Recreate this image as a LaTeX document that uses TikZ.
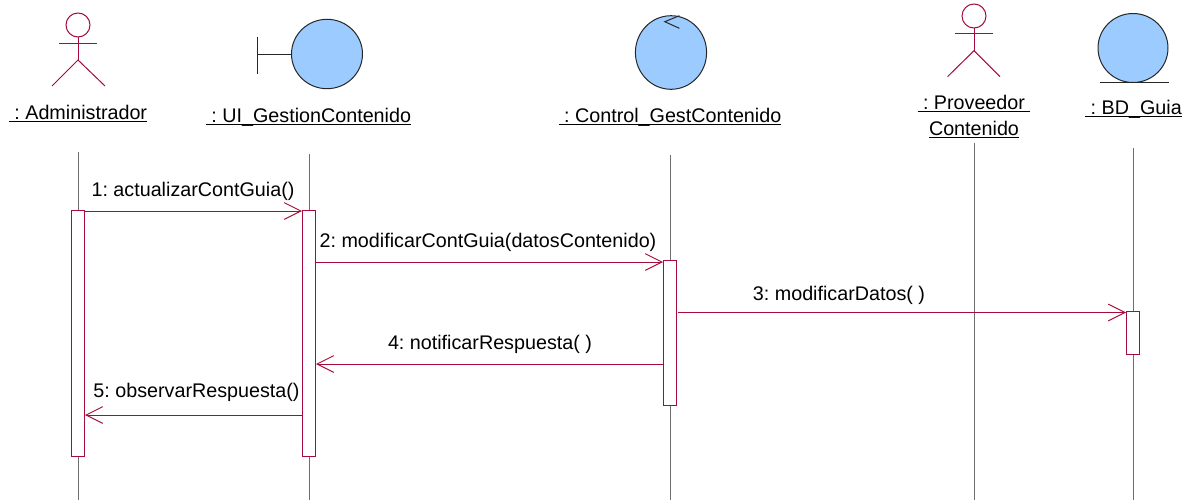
\documentclass[tikz,border=0pt]{standalone}
\usepackage{fontspec}
\setmainfont{Liberation Sans}
\usetikzlibrary{arrows.meta}
\definecolor{umlred}{RGB}{165,12,60}
\definecolor{umlblue}{RGB}{156,204,255}
\definecolor{lifegray}{RGB}{110,110,110}
\newcommand{\objname}[1]{\underline{\smash{#1}}}
\tikzset{every picture/.style={line width=0.75pt}}
\tikzset{
  actor/.style={draw=umlred},
  robust/.style={draw=black!85,fill=umlblue},
  robustline/.style={draw=black!85},
  lifeline/.style={draw=lifegray},
  activation/.style={draw=umlred,fill=white,inner sep=0pt,minimum width=13*0.75pt},
  message/.style={draw=umlred,-{Straight Barb[length=12.5pt,width=12.5pt,line width=0.75pt]}},
  objlabel/.style={anchor=base,inner sep=0pt,font=\fontsize{14.8}{18}\selectfont,align=center},
  msglabel/.style={anchor=base,inner sep=0pt,font=\fontsize{14.8}{18}\selectfont}
}
\begin{document}
\begin{tikzpicture}[x=0.75pt,y=0.75pt,yscale=-1,xscale=1]
	\useasboundingbox (0,0) rectangle (1197,500);

	%Lifelines
	\coordinate (topAdmin) at (78,152);
	\coordinate (endAdmin) at (78,500);
	\coordinate (topUI) at (309,154);
	\coordinate (endUI) at (309,500);
	\coordinate (topControl) at (670.5,155);
	\coordinate (endControl) at (670.5,500);
	\coordinate (topProv) at (974,143);
	\coordinate (endProv) at (974,500);
	\coordinate (topBD) at (1133,148);
	\coordinate (endBD) at (1133,500);
	\draw [lifeline] (topAdmin) -- (endAdmin);
	\draw [lifeline] (topUI) -- (endUI);
	\draw [lifeline] (topControl) -- (endControl);
	\draw [lifeline] (topProv) -- (endProv);
	\draw [lifeline] (topBD) -- (endBD);

	%Activation boxes
	\node [activation,minimum height=246*0.75pt] (actAdmin) at (77.5,333) {};
	\node [activation,minimum height=246*0.75pt] (actUI) at (308.5,333) {};
	\node [activation,minimum height=144.5*0.75pt] (actControl) at (670,333) {};
	\node [activation,minimum height=42.5*0.75pt] (actBD) at (1133,333) {};

	%Actor Administrador
	\draw [actor] (78,25) circle (12);
	\draw [actor] (78,37) -- (78,60);
	\draw [actor] (59,43) -- (97,43);
	\draw [actor] (52,86) -- (78,60) -- (105,86);

	%Boundary UI
	\draw [robustline] (257,37) -- (257,74);
	\draw [robustline] (257,54) -- (292,54);
	\draw [robust] (327,54) ellipse (35.5 and 34.7);

	%Control
	\draw [robust] (671,52.5) ellipse (35.6 and 36.8);
	\draw [robustline] (679.4,15.7) -- (664.8,21.7) -- (679.4,28.3);

	%Actor Proveedor
	\draw [actor] (974,16) ellipse (12 and 12);
	\draw [actor] (974,28) -- (974,50.7);
	\draw [actor] (954.6,33.7) -- (993,33.7);
	\draw [actor] (947.5,76.7) -- (974,50.7) -- (1000,76.7);

	%Entity BD
	\draw [robust] (1133,48) ellipse (35 and 34.5);
	\draw [robustline] (1099.5,82.7) -- (1169,82.7);

	%Messages
	\coordinate (startM1) at (84,211);
	\coordinate (endM1) at (302,211);
	\coordinate (startM2) at (316,262);
	\coordinate (endM2) at (663,262);
	\coordinate (startM3) at (678,312.5);
	\coordinate (endM3) at (1126,312.5);
	\coordinate (startM4) at (663,364);
	\coordinate (endM4) at (316,364);
	\coordinate (startM5) at (302,415);
	\coordinate (endM5) at (85,415);
	\draw [message] (startM1) -- (endM1);
	\draw [message] (startM2) -- (endM2);
	\draw [message] (startM3) -- (endM3);
	\draw [message] (startM4) -- (endM4);
	\draw [message] (startM5) -- (endM5);

	% Text Node
	\node [objlabel] (lblAdmin) at (78,119) {\objname{\ :\ Administrador}};
	% Text Node
	\node [objlabel] (lblUI) at (308.5,122) {\objname{\ :\ UI\_GestionContenido}};
	% Text Node
	\node [objlabel] (lblControl) at (670,122) {\objname{\ :\ Control\_GestContenido}};
	% Text Node
	\node [objlabel] (lblProv) at (974,109) {\objname{\ :\ Proveedor\ }};
	% Text Node
	\node [objlabel] (lblProvB) at (974,135) {\objname{Contenido}};
	% Text Node
	\node [objlabel] (lblBD) at (1133.5,114) {\objname{\ :\ BD\_Guia}};
	% Text Node
	\node [msglabel] (lblM1) at (193,196.5) {1:\ actualizarContGuia()};
	% Text Node
	\node [msglabel] (lblM2) at (488,247) {2:\ modificarContGuia(datosContenido)};
	% Text Node
	\node [msglabel] (lblM3) at (839,300) {3:\ modificarDatos(\ )};
	% Text Node
	\node [msglabel] (lblM4) at (490,349) {4:\ notificarRespuesta(\ )};
	% Text Node
	\node [msglabel] (lblM5) at (196.5,397) {5:\ observarRespuesta()};
\end{tikzpicture}
\end{document}
